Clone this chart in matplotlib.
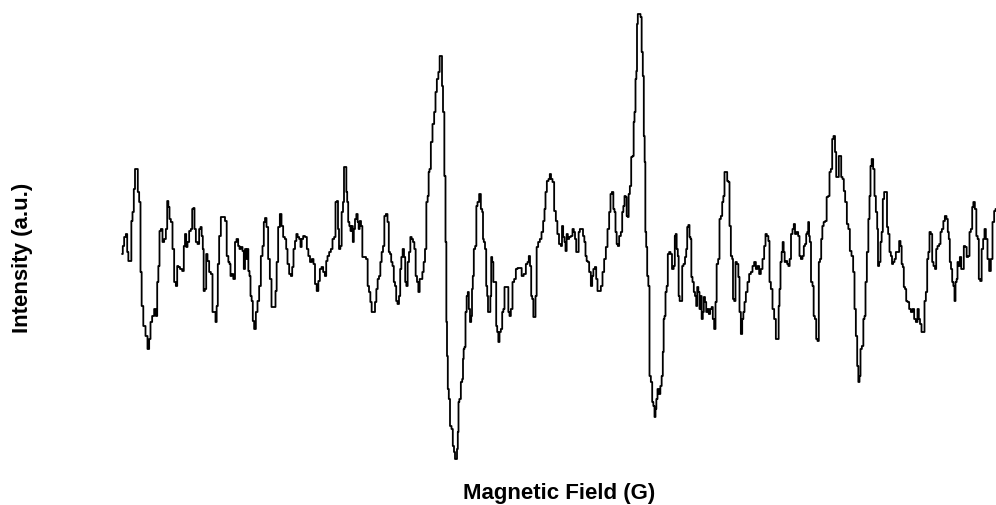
import numpy as np
import matplotlib
matplotlib.use("Agg")
import matplotlib.pyplot as plt

# EPR spectrum, values (arbitrary units)
field = [
    122.3, 123.3, 125, 126.7, 127.7, 129, 131, 131.7, 133.3, 134.3, 135.7, 137.3, 138.3, 140, 141, 142.3,
    144.3, 146.7, 148.3, 150, 151, 153.3, 155, 156.7, 157.7, 159, 160, 161.7, 163.3, 165, 166.7, 167.7,
    169, 170, 171.7, 173.3, 175, 176.7, 177.7, 179, 181, 183.3, 184.3, 185.7, 186.7, 188.3, 190, 191.7,
    192.7, 194, 195, 196.7, 198.3, 200, 201, 202.3, 203.3, 204, 205.7, 206.7, 208.3, 210, 211.7, 213.3,
    215, 216, 217.3, 218.3, 220, 221.7, 224.3,
    225.7, 227.7, 229, 230, 231, 232.3, 234.3, 235.7, 237.3, 239, 240, 241.7, 243.3, 244.3, 245.7, 246.7,
    247.7, 249, 250, 251, 252.3, 253.3, 255, 256.7, 258.3, 260, 261.7, 263.3, 264.3, 265.7, 267.3, 269,
    270.7, 272.3, 275, 276, 277.3, 279, 280.7, 282.3, 284, 285.7, 286.7, 288.3, 290, 291.7, 292.7, 294.3,
    295.7, 297, 298.3, 300, 301, 302.3, 304, 306, 307.7, 309, 311, 312.7, 314.3, 315.7, 317.7, 319,
    320.7, 322.3, 324, 325.7, 326.7, 328.3, 330, 331.7, 333.3,
    335, 336, 337.7, 338.3, 339.7, 341, 342.3, 343.7, 344.3, 346, 346.7, 347.7, 348.7, 350, 351, 352.3,
    353.3, 354.3, 355.7, 357, 358.3, 359, 360.3, 361.7, 363, 365, 367, 368.3, 369.7, 371, 372.3, 374.3,
    375.7, 377, 378.3, 379.7, 381, 382.3, 383.7, 385, 386.7, 388.3, 389.3, 390.7, 391.7, 393.3, 394.3, 395.7,
    396.7, 398.3, 399.7, 400.7, 402, 403.3, 404.7, 405.7, 407, 408.3, 409.7, 411, 412.3, 413.7, 415, 416.3,
    417.7, 419, 420.3, 421.7, 423, 424.3, 425.7, 427, 428.3, 429, 430, 431.7, 433.3, 435, 436, 437.7,
    439, 440.3, 441.7, 442.3, 443.7, 445, 446, 446.7, 447.3, 448.3, 449.3, 450.7, 452.3, 453.3, 454.7, 455.3,
    456.7, 457.3, 458.3, 458.7, 460, 461.7, 462.7, 463.3, 464, 465, 466, 467.3, 468.3, 469.3, 470.7, 471.7,
    472.3,
    473.3, 474.3, 476, 476.7, 478.3, 480, 481.7, 482.7, 483.3, 484.3, 485.7, 486.7, 487.7, 488.3, 490, 490.7,
    491.7, 492.7, 494, 495.7, 496.7, 497.7, 499, 500, 501.7, 502.7, 504, 505, 507.7, 509, 510, 511.7,
    513.3, 515, 516.7, 518.3, 521, 522.3, 525, 526.7, 528.3, 529.3, 530.7, 531.7, 532.7, 534, 535, 536,
    537.3, 539, 540.7, 542.3, 544, 545, 546, 547.7, 549.3, 550.3, 551.7, 553.3, 555, 556.7, 558,
    560, 561.7, 562.3, 564, 565, 566, 567.3, 568.3, 570, 571.7, 573.3, 574.3, 575.7, 576.7, 578.3, 579,
    580.7, 582.3, 583.7, 585, 586, 587.3, 588.3, 590, 591.7, 592.7, 594, 595.7, 596.7, 598.3, 600, 601.7,
    603.3, 605, 606.7, 608.3, 610, 611, 612.7, 614, 615, 616, 617.3, 618.3, 620, 621.7, 622.7, 624,
    625, 626.3, 627, 628.3, 629, 630.7, 631.7, 633.3, 634, 635, 636, 636.7, 637.3, 638.3, 640, 641,
    642.3, 643.3, 644.3, 645, 645.7, 646.7, 647.7, 649, 650, 651.7, 652.7, 654, 655, 656, 656.7, 658.3,
    659.7, 661, 662.3, 663.3, 664, 665, 666, 667.3, 668.3, 670,
    671, 673, 674.3, 675.3, 676, 677.3, 678.3, 679, 680.3, 681.7, 682.7, 684.3, 685.7, 686.7, 687.7, 689,
    690, 691, 691.7, 693.3, 694.3, 695.7, 696.7, 697.7, 699, 700, 701, 702.3, 703.3, 704.3, 705.7, 706.7,
    708.3, 709.3, 711, 712.3, 713.3, 715, 716, 717.3, 719, 720, 721.7, 722.7, 724, 725, 726.7, 727.7,
    729, 730, 731.7, 732.7, 733.3, 735, 736, 737.7, 739, 740, 741.7, 742.7, 744, 745, 746.7, 748.3,
    750, 751.7, 753.3, 755, 756.7, 758.3, 760, 761.7, 763.3, 765, 766, 767.7, 769, 770, 771.7, 773.3,
    775, 776.7, 778.3,
    779, 780, 781, 782.3, 783, 784.3, 785, 786.7, 787.7, 789, 790.3, 791.7, 793.3, 794.3, 795.7, 797.3,
    799, 800, 801.7, 803.3, 804.3, 805.7, 806.7, 807.7, 808.7, 809.3, 810.3, 811.7, 813.3, 814, 815.7, 816.7,
    818.3, 819.3, 820.7, 821.7, 823, 824.3, 826, 827.3, 829, 830, 831.7, 832.7, 834.3, 835.7, 836.7, 838.3,
    839.3, 840.7, 841.7, 843.3, 844.3, 846, 847.7, 849, 850.7, 852.3, 854, 855, 856.7, 857.7, 859, 860,
    861, 862.7, 864, 865, 866, 867.7, 869, 870, 871, 872.3, 874, 875, 876.7, 877.7, 878.3, 880,
    881, 882.3, 883.3, 885,
    886.7, 887.3, 889, 890, 891.7, 892.3, 894, 895, 896.7, 898.3, 900, 901, 902.3, 903.3, 904.3, 905.7,
    906.7, 908.3, 910, 911.7, 913.3, 915, 916.7, 918.3, 919.3, 920.7, 922.3, 924, 925, 926.7, 927.7, 929,
    930, 931.7, 932.7, 934.3, 935.7, 936.7, 938.3, 940, 941, 942.7, 944, 945.7, 947.3, 948.3, 949.3, 950.3,
    951.7, 952.7, 954, 955, 956, 957.3, 957.7, 959, 960.7, 961.7, 963.3, 964.3, 966, 967.3, 969, 970,
    971.7, 972.7, 974, 975.7, 977, 978.3, 979.3, 981, 982.3, 984, 985, 986.7, 988.3, 990, 991.7, 993.3,
    995, 996,
]

intensity = [
    0, 8, 17, 20, 2, -7, -7, 33, 42, 65, 85, 85, 62, 52, -18, -52,
    -72, -82, -95, -85, -68, -62, -55, -62, -28, -12, 23, 25, 12, 15, 25, 53,
    47, 35, 32, 5, -28, -32, -12, -13, -15, -17, 8, 20, 7, 12, 23, 25,
    45, 46, 25, 12, 10, 25, 27, 18, 5, -37, -35, 0, -7, -18, -20, -58,
    -58, -68, -52, -10, 18, 37, 37,
    33, -2, -8, -10, -22, -20, -25, 12, 15, 8, 5, 7, 3, -15, 5, -5,
    5, -17, -22, -42, -47, -67, -75, -58, -47, -32, -2, 8, 32, 36, 27, -5,
    -25, -53, -53, -37, -8, 27, 40, 28, 17, 15, 5, -10, -20, -22, -13, 5,
    13, 20, 17, 15, 7, 15, 18, 17, 5, -2, -8, -5, -10, -30, -37, -27,
    -15, -13, -18, -22, -7, -2, 2, 5, 15,
    17, 52, 53, 25, 5, 8, 42, 52, 87, 87, 62, 52, 32, 28, 23, 28,
    12, 25, 35, 40, 32, 25, 33, 28, -3, -3, -5, -32, -38, -48, -58, -58,
    -48, -35, -25, -22, -8, 2, 8, 38, 40, 32, 2, 0, -8, -12, -28, -32,
    -47, -50, -42, -15, -3, 5, -3, -28, -32, -8, 2, 17, 15, 12, 5, -22,
    -28, -38, -25, -25, -18, -8, 5, 52, 58, 82, 85, 112, 130, 142, 162, 175,
    182, 198, 198, 168, 142, 78, 12, -68, -102, -135, -145, -172, -175, -192, -198, -205,
    -205, -195, -178, -148, -145, -128, -125, -105, -95, -93, -58, -42, -38, -55, -68, -62,
    -35,
    -22, 5, 8, 48, 52, 60, 45, 42, 15, 12, 5, -32, -42, -58, -58, -42,
    -3, -8, -28, -28, -72, -78, -88, -78, -75, -58, -55, -33, -33, -58, -62, -55,
    -28, -25, -15, -14, -14, -22, -20, -10, -8, -2, -12, -42, -45, -63, -63, -42,
    7, 12, 15, 22, 33, 45, 62, 73, 75, 80, 75, 72, 43, 33, 20,
    10, 8, 28, 17, 12, 3, 20, 15, 17, 18, 25, 22, 15, 2, 2, 22,
    25, 25, 18, 12, -2, -7, -8, -18, -32, -22, -15, -13, -25, -37, -37, -32,
    -18, -5, 7, 25, 42, 60, 62, 45, 42, 22, 10, 8, 18, 22, 42, 48,
    58, 57, 38, 37, 60, 68, 97, 98, 132, 142, 175, 183, 230, 240, 240, 237,
    202, 178, 118, 92, 22, 7, -22, -32, -122, -128, -148, -152, -163, -155, -145, -135,
    -140, -132, -122, -98, -65, -62, -38, -32, 0, 2,
    0, -15, -12, 18, 20, 5, -2, -42, -47, -47, -12, -10, -3, 5, 27, 29,
    17, 15, -23, -28, -38, -42, -52, -33, -38, -55, -42, -65, -58, -43, -48, -58,
    -55, -60, -55, -53, -65, -75, -48, -10, -5, 35, 38, 52, 58, 82, 82, 73,
    72, 28, -2, -5, -45, -47, -8, -10, -23, -58, -80, -65, -58, -48, -38, -28,
    -20, -18, -12, -8, -15, -12, -20, -15, -5, 8, 20, 18, 13, -28, -35, -55,
    -65, -85, -85,
    -52, -35, -8, 2, 12, 2, -8, -7, -10, -12, -5, 20, 25, 30, 20, 22,
    18, -2, -5, -2, 8, 10, 20, 22, 32, 18, 12, -28, -32, -62, -65, -85,
    -87, -8, -5, 15, 28, 32, 33, 57, 58, 82, 85, 115, 118, 102, 77, 77,
    98, 98, 77, 75, 63, 52, 30, 25, 3, -2, -18, -55, -82, -112, -128, -122,
    -95, -92, -65, -62, -28, 2, 35, 58, 88, 95, 85, 58, 42, 25, -12, -8,
    12, 22, 55, 62,
    62, 27, 20, 2, -2, -10, -8, -5, 2, 2, 13, 8, -10, -13, -33, -35,
    -47, -48, -55, -58, -55, -65, -68, -55, -65, -70, -78, -78, -47, -38, -5, 2,
    22, 20, -8, -12, -15, 5, 8, 10, 22, 25, 33, 38, 35, 22, 15, -8,
    -15, -28, -32, -47, -28, -25, -8, -12, -3, -15, -15, 8, 7, -3, -2, 22,
    25, 47, 52, 45, 18, 15, -25, -27, 5, 15, 25, 15, -5, -17, -5, 32,
    43, 45,
]

W, H = 996, 506
fig = plt.figure(figsize=(W / 100, H / 100), dpi=100)
ax = fig.add_axes([122.3 / W, (H - 460) / H, (996 - 122.3) / W, (460 - 15) / H])
ax.plot(field, intensity, color="black", lw=1.3, drawstyle="steps-mid", clip_on=False)
ax.set_xlim(min(field), max(field))
ax.set_ylim(min(intensity), max(intensity))
ax.axis("off")

label_font = dict(family=["Liberation Sans", "DejaVu Sans"], weight="bold", fontsize=16)
fig.text(22.5 / W, 1 - 257.5 / H, "Intensity (a.u.)", rotation=90, ha="center", va="center", **label_font)
fig.text(559 / W, 1 - 494 / H, "Magnetic Field (G)", ha="center", va="center", **label_font)

fig.savefig("out.png", dpi=100)
